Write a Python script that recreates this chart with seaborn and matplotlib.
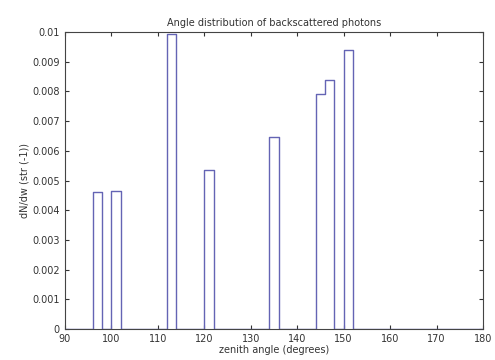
import matplotlib
matplotlib.use('Agg')
import matplotlib.pyplot as plt
import seaborn as sns
import numpy as np

# bin centres (2 degree bins) and their heights
angles = [97, 101, 113, 121, 135, 145, 147, 151]
density = [0.0046, 0.00465, 0.00995, 0.00535, 0.00645, 0.0079, 0.0084, 0.0094]
bin_edges = list(range(90, 182, 2))
y_ticks = [0, 0.001, 0.002, 0.003, 0.004, 0.005, 0.006, 0.007, 0.008, 0.009, 0.01]
y_labels = ['0', '0.001', '0.002', '0.003', '0.004', '0.005', '0.006', '0.007', '0.008', '0.009', '0.01']

sns.set_style('white')
plt.rcParams['font.family'] = ['DejaVu Sans']

fig = plt.figure(figsize=(4.95, 3.6), dpi=100)
ax = fig.add_axes([0.131, 0.086, 0.845, 0.825])

sns.histplot(x=angles, weights=density, bins=bin_edges, element='step', fill=False,
             color='#6464b4', linewidth=1.0, ax=ax)

ax.set_xlim(90, 180)
ax.set_ylim(0, 0.01)
ax.set_xticks(range(90, 181, 10))
ax.set_yticks(y_ticks)
ax.set_yticklabels(y_labels)
ax.tick_params(direction='in', length=3, labelsize=7, colors='#333333',
               top=True, right=True, bottom=True, left=True)
for s in ax.spines.values():
    s.set_visible(True)
    s.set_color('#444444')
    s.set_linewidth(0.8)

ax.set_title('Angle distribution of backscattered photons', fontsize=7, color='#333333', pad=4)
ax.set_xlabel('zenith angle (degrees)', fontsize=7, color='#333333', labelpad=1)
ax.set_ylabel('dN/dw (str (-1))', fontsize=7, color='#333333', labelpad=2)

fig.savefig('out.png', dpi=100)
